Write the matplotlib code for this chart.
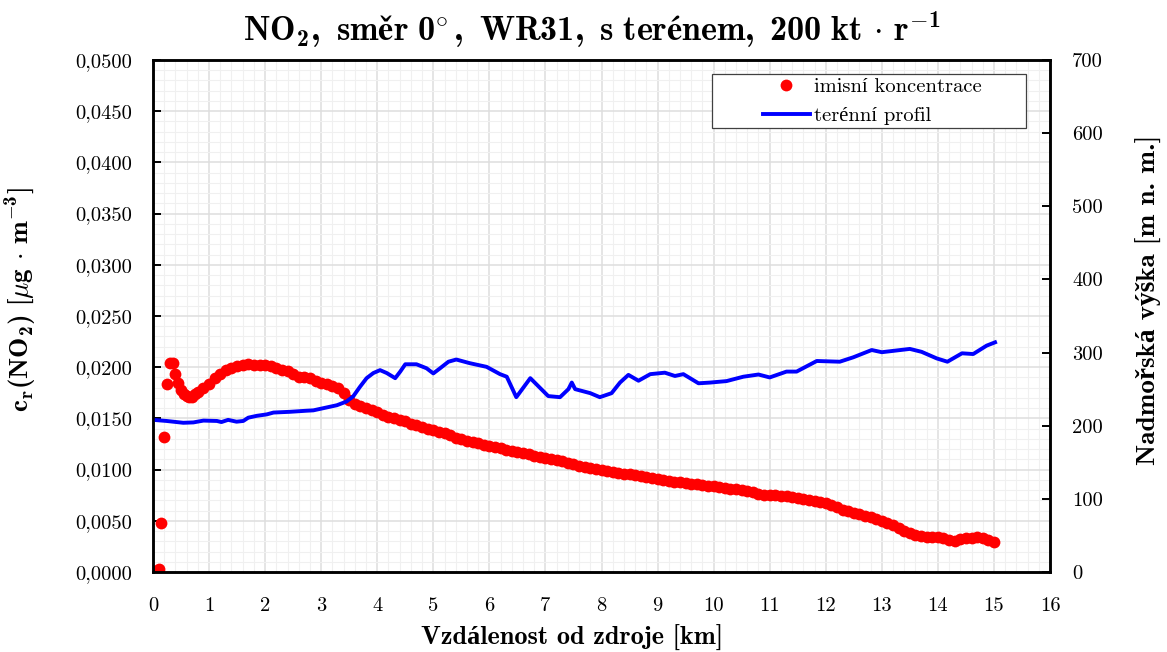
import numpy as np
import matplotlib
matplotlib.use('Agg')
from matplotlib import pyplot as plt
from matplotlib.ticker import MultipleLocator, FuncFormatter
from matplotlib.patches import Rectangle

plt.rcParams['font.family'] = ['cmr10', 'Liberation Serif', 'DejaVu Serif']
plt.rcParams['mathtext.fontset'] = 'custom'
plt.rcParams['mathtext.rm'] = 'cmr10'
plt.rcParams['mathtext.bf'] = 'cmb10'
plt.rcParams['mathtext.it'] = 'cmmi10'
plt.rcParams['mathtext.fallback'] = 'cm'
plt.rcParams['axes.unicode_minus'] = False
bold_fam = ['cmb10', 'Liberation Serif', 'DejaVu Serif']

# imisni koncentrace NO2 [ug/m3], krok 0.05 km do 0.75 km, dale 0.1 km
dist_near = np.round(np.arange(0.05, 0.76, 0.05), 2)
conc_near = [0.0001, 0.0003, 0.0048, 0.0132, 0.0184, 0.0204, 0.0204, 0.0193,
             0.0185, 0.0178, 0.0174, 0.0172, 0.0171, 0.0171, 0.0174]
dist_far = np.round(np.arange(0.8, 15.01, 0.1), 1)
conc_far = [0.0176, 0.0180,
            0.0184, 0.0189, 0.0193, 0.0197, 0.0199, 0.0201, 0.0202, 0.0203, 0.0202, 0.0202,
            0.0202, 0.0201, 0.0199, 0.0197, 0.0196, 0.0193, 0.0190, 0.0190, 0.0189, 0.0187,
            0.0185, 0.0184, 0.0182, 0.0180, 0.0175, 0.0168, 0.0164, 0.0162, 0.0160, 0.0158,
            0.0156, 0.0153, 0.0151, 0.0150, 0.0148, 0.0147, 0.0145, 0.0144, 0.0142, 0.0140,
            0.0139, 0.0137, 0.0136, 0.0134, 0.0131, 0.0130, 0.0128, 0.0127, 0.0126, 0.0124,
            0.0123, 0.0122, 0.0121, 0.0119, 0.0118, 0.0117, 0.0116, 0.0115, 0.0113, 0.0112,
            0.0111, 0.0110, 0.0109, 0.0108, 0.0106, 0.0105, 0.0104, 0.0103, 0.0102, 0.0101,
            0.0100, 0.0099, 0.0098, 0.0097, 0.0096, 0.0096, 0.0095, 0.0094, 0.0093, 0.0092,
            0.0091, 0.0090, 0.0089, 0.0088, 0.0088, 0.0087, 0.0086, 0.0086, 0.0085, 0.0084,
            0.0084, 0.0083, 0.0082, 0.0081, 0.0081, 0.0080, 0.0079, 0.0078, 0.0076, 0.0075,
            0.0075, 0.0075, 0.0074, 0.0074, 0.0073, 0.0072, 0.0071, 0.0070, 0.0069, 0.0068,
            0.0067, 0.0065, 0.0063, 0.0061, 0.0060, 0.0058, 0.0057, 0.0055, 0.0054, 0.0052,
            0.0050, 0.0048, 0.0046, 0.0043, 0.0040, 0.0038, 0.0036, 0.0035, 0.0034, 0.0034,
            0.0034, 0.0033, 0.0031, 0.0030, 0.0032, 0.0033, 0.0033, 0.0034, 0.0033, 0.0031,
            0.0029]

dist_conc = np.concatenate([dist_near, dist_far])
conc = np.concatenate([conc_near, conc_far])

# terenni profil [m n. m.]
dist_ter = [0.0, 0.24, 0.54, 0.72, 0.9, 1.14, 1.22, 1.34, 1.49, 1.61, 1.7, 1.85,
            2.03, 2.15, 2.44, 2.74, 2.86, 3.04, 3.28, 3.45, 3.57, 3.69, 3.81, 3.93,
            4.05, 4.17, 4.32, 4.41, 4.5, 4.7, 4.88, 5.0, 5.12, 5.27, 5.41, 5.65,
            5.95, 6.19, 6.31, 6.48, 6.73, 7.05, 7.26, 7.41, 7.47, 7.53, 7.8, 7.97,
            8.18, 8.33, 8.48, 8.66, 8.87, 9.13, 9.31, 9.46, 9.73, 9.94, 10.23, 10.53,
            10.8, 11.0, 11.3, 11.48, 11.84, 12.25, 12.49, 12.82, 13.0, 13.5, 13.71, 13.98,
            14.17, 14.43, 14.63, 14.87, 15.02]
elev = [208, 206.5, 204, 204.5, 207, 206.5, 205, 208, 205.5, 206.5, 211, 213.5,
        215.5, 218, 219, 220.5, 221, 224, 228, 233, 240, 253, 265, 272,
        276, 272, 265, 274, 284, 284, 278.5, 271.5, 278.5, 287.5, 290.5, 285.5,
        280.5, 270.5, 267, 239, 265, 240.5, 239, 250, 259, 250, 244.5, 239,
        244.5, 259, 269.5, 261.5, 270.5, 272.5, 268, 270.5, 258, 259, 261, 267,
        270, 266, 274, 274, 288.5, 287.5, 293.5, 303.5, 300.5, 305, 301, 292,
        287.5, 299, 298, 309.5, 314]

fig = plt.figure(figsize=(11.67, 6.52), dpi=100)
ax1 = fig.add_axes([153/1167, 1 - 572/652, 897/1167, 512/652])
ax2 = ax1.twinx()

p1, = ax1.plot(dist_conc, conc, 'o', color='red', ms=8.5, mew=0, label='imisní koncentrace')
p2, = ax2.plot(dist_ter, elev, '-', color='blue', lw=2.8, label='terénní profil')

ax1.set_xlim(0, 16)
ax1.set_ylim(0, 0.05)
ax2.set_ylim(0, 700)

ax1.xaxis.set_major_locator(MultipleLocator(1))
ax1.xaxis.set_minor_locator(MultipleLocator(0.2))
ax1.yaxis.set_major_locator(MultipleLocator(0.005))
ax1.yaxis.set_minor_locator(MultipleLocator(0.001))
ax2.yaxis.set_major_locator(MultipleLocator(100))
ax1.yaxis.set_major_formatter(FuncFormatter(lambda v, pos: ('%.4f' % v).replace('.', ',')))
ax1.xaxis.set_major_formatter(FuncFormatter(lambda v, pos: '%d' % round(v)))
ax2.yaxis.set_major_formatter(FuncFormatter(lambda v, pos: '%d' % round(v)))

ax1.set_axisbelow(True)
ax1.grid(which='major', color='#dedede', lw=1.1)
ax1.grid(which='minor', color='#f0f0f0', lw=0.8)

ax1.tick_params(axis='y', which='major', direction='in', length=6, width=1.4, labelsize=14.8, pad=15)
ax1.tick_params(axis='x', which='major', length=0, labelsize=14.8, pad=18)
ax1.tick_params(which='minor', length=0)
ax2.tick_params(axis='y', which='major', direction='in', length=6, width=1.4, labelsize=14.8, pad=16)
for ax in (ax1, ax2):
    for s in ax.spines.values():
        s.set_linewidth(1.8)

ax1.set_xlabel('Vzdálenost od zdroje [km]', fontsize=18.9, fontweight='bold', family=bold_fam)
ax1.xaxis.set_label_coords(0.467, -0.1035)
ax1.set_ylabel(r'$\mathbf{c_r(NO_2)\ [\mu g\,\cdot\,m^{-3}]}$', fontsize=19.5)
ax1.yaxis.set_label_coords(-0.128, 0.532)
ax2.set_ylabel('Nadmořská výška [m n. m.]', fontsize=19.6, fontweight='bold', family=bold_fam)
ax2.yaxis.set_label_coords(1.096, 0.532)
ax1.set_title(r'$\mathbf{NO_2,\ směr\ 0\!^\circ,\ WR31,\ s\ terénem,\ 200\ kt\,\cdot\,r^{-1}}$',
              fontsize=24.5, pad=14, x=0.4894)

# ramecek legendy
ax2.add_artist(Rectangle((0.6232, 0.8672), 0.35, 0.1055, transform=ax2.transAxes,
                         facecolor='white', edgecolor='#404040', lw=0.9, zorder=4.9, clip_on=False))
leg = ax2.legend([p1, p2], [p1.get_label(), p2.get_label()], loc='center left',
                 bbox_to_anchor=(0.669, 0.919), frameon=False, fontsize=14.8, borderpad=0,
                 handlelength=2.25, handletextpad=0.2, labelspacing=0.5, numpoints=1)
leg.set_zorder(5)

fig.savefig('out.png', dpi=100)
